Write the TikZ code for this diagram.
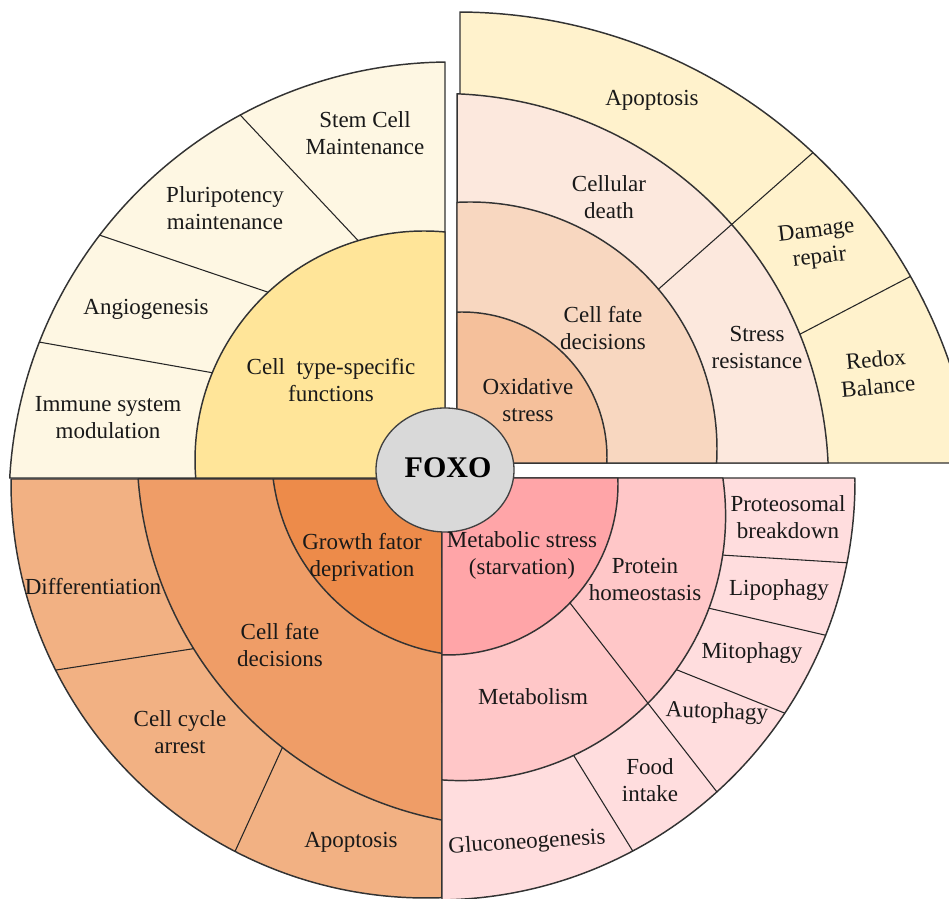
\documentclass[tikz,border=0pt]{standalone}
\usepackage{fontspec}
\setmainfont{Liberation Serif}
\usetikzlibrary{shapes.geometric}
\newcommand{\lbfont}{\fontsize{17.25pt}{20.25pt}\selectfont}
\definecolor{tlo}{RGB}{254,247,227}
\definecolor{tli}{RGB}{255,229,153}
\definecolor{tra}{RGB}{255,242,204}
\definecolor{trb}{RGB}{252,232,221}
\definecolor{trc}{RGB}{248,215,192}
\definecolor{trd}{RGB}{245,192,155}
\definecolor{bla}{RGB}{242,177,131}
\definecolor{blb}{RGB}{239,157,103}
\definecolor{blc}{RGB}{237,139,74}
\definecolor{bra}{RGB}{255,221,222}
\definecolor{brb}{RGB}{255,199,200}
\definecolor{brc}{RGB}{255,165,168}
\definecolor{foxofill}{RGB}{217,217,217}
\tikzset{
  region/.style={draw=black!80, line width=1.1pt, line join=round},
  divider/.style={draw=black!85, line width=0.8pt},
  lbl/.style={font=\lbfont, align=center, inner sep=0pt, text=black!90},
}
\begin{document}
\begin{tikzpicture}[x=0.75pt,y=0.75pt]
\useasboundingbox (0,0) rectangle (949,899);
\clip (0,0) rectangle (949,899);
\fill[white] (0,0) rectangle (949,899);

% ---------- top-left quadrant ----------
\path[region, fill=tlo] (445,421) -- ([shift={(450,396)}]90.65:441) arc[start angle=90.65, end angle=176.75, radius=441] -- cycle;
\path[region, fill=tli] (445,421) -- ([shift={(424,439)}]84.74:229) arc[start angle=84.74, end angle=184.51, radius=229] -- cycle;
\draw[divider] ([shift={(424,439)}]106.7:229) -- ([shift={(450,396)}]118.4:441);
\draw[divider] ([shift={(424,439)}]132.9:229) -- ([shift={(450,396)}]142.6:441);
\draw[divider] ([shift={(424,439)}]157.6:229) -- ([shift={(450,396)}]158.6:441);

% ---------- top-right quadrant ----------
\path[region, fill=tra] (460,436) -- ([shift={(457,366)}]89.67:521) arc[start angle=89.67, end angle=7.72, radius=521] -- cycle;
\path[region, fill=trb] (457,436) -- ([shift={(441.5,418.5)}]87.7:387) arc[start angle=87.7, end angle=2.59, radius=387] -- cycle;
\path[region, fill=trc] (457,436) -- ([shift={(470,450)}]93.02:247) arc[start angle=93.02, end angle=-3.25, radius=247] -- cycle;
\path[region, fill=trd] (457,436) -- ([shift={(462,442)}]91.98:145) arc[start angle=91.98, end angle=-2.37, radius=145] -- cycle;
\draw[divider] ([shift={(470,450)}]40.3:247) -- ([shift={(457,366)}]46.9:521);
\draw[divider] ([shift={(441.5,418.5)}]22.2:387) -- ([shift={(457,366)}]29.5:521);

% ---------- bottom-left quadrant ----------
\path[region, fill=bla] (442,420) -- ([shift={(426,416)}]179.45:415) arc[start angle=179.45, end angle=272.2, radius=415] -- cycle;
\path[region, fill=blb] (442,420) -- ([shift={(514,449)}]184.41:377) arc[start angle=184.41, end angle=259.0, radius=377] -- cycle;
\path[region, fill=blc] (442,420) -- ([shift={(474.5,446)}]187.36:203) arc[start angle=187.36, end angle=260.79, radius=203] -- cycle;
\draw[divider] ([shift={(514,449)}]211.8:377) -- ([shift={(426,416)}]206.8:415);
\draw[divider] ([shift={(514,449)}]232.1:377) -- ([shift={(426,416)}]242.6:415);

% ---------- bottom-right quadrant ----------
\path[region, fill=bra] (442,421) -- ([shift={(436,418)}]0.41:419) arc[start angle=0.41, end angle=-89.18, radius=419] -- cycle;
\path[region, fill=brb] (442,421) -- ([shift={(461,383)}]8.26:264.6) arc[start angle=8.26, end angle=-94.12, radius=264.6] -- cycle;
\path[region, fill=brc] (442,421) -- ([shift={(447,415)}]2.01:171) arc[start angle=2.01, end angle=-91.68, radius=171] -- cycle;
\draw[divider] ([shift={(447,415)}]-44.05:171) -- ([shift={(436,418)}]-47.9:419);
\draw[divider] ([shift={(461,383)}]-8.5:264.6) -- ([shift={(436,418)}]-11.26:419);
\draw[divider] ([shift={(461,383)}]-20.4:264.6) -- ([shift={(436,418)}]-21.6:419);
\draw[divider] ([shift={(461,383)}]-35.5:264.6) -- ([shift={(436,418)}]-33.65:419);
\draw[divider] ([shift={(461,383)}]-64.8:264.6) -- ([shift={(436,418)}]-62.0:419);

% ---------- centre ----------
\node[ellipse, draw=black!75, line width=1pt, fill=foxofill, minimum width=103.5pt, minimum height=93pt, inner sep=0pt] (foxo) at (445,429) {};
\node[font=\fontsize{22.5pt}{24pt}\selectfont\bfseries, inner sep=0pt] (foxot) at (448,431) {FOXO};

% ---------- labels: top-left ----------
\node[lbl] (stem) at (365,766) {Stem Cell\\Maintenance};
\node[lbl] (plur) at (225,691) {Pluripotency\\maintenance};
\node[lbl] (angi) at (146,590) {Angiogenesis};
\node[lbl] (immu) at (108,481) {Immune system\\modulation};
\node[lbl] (ctsf) at (331,519) {Cell~~type-specific\\functions};

% ---------- labels: top-right ----------
\node[lbl] (apo1) at (652,799) {Apoptosis};
\node[lbl] (celd) at (609,702) {Cellular\\death};
\node[lbl, rotate=7] (damr) at (818,654) {Damage\\repair};
\node[lbl] (cfd1) at (603,571) {Cell fate\\decisions};
\node[lbl] (stre) at (757,551) {Stress\\resistance};
\node[lbl, rotate=5] (redo) at (877,526) {Redox\\Balance};
\node[lbl] (oxis) at (528,499) {Oxidative\\stress};

% ---------- labels: bottom-left ----------
\node[lbl] (diff) at (93,312) {Differentiation};
\node[lbl] (grow) at (362,342) {Growth fator\\deprivation};
\node[lbl] (cfd2) at (280,254) {Cell fate\\decisions};
\node[lbl] (ccar) at (180,167) {Cell cycle\\arrest};
\node[lbl] (apo2) at (351,57) {Apoptosis};

% ---------- labels: bottom-right ----------
\node[lbl] (prot) at (788,382) {Proteosomal\\breakdown};
\node[lbl] (lipo) at (779,309) {Lipophagy};
\node[lbl] (mito) at (752,246) {Mitophagy};
\node[lbl, rotate=-2] (auto) at (717,186) {Autophagy};
\node[lbl] (food) at (650,119) {Food\\intake};
\node[lbl, rotate=3.6] (gluc) at (527,56) {Gluconeogenesis};
\node[lbl] (meta) at (533,202) {Metabolism};
\node[lbl] (proh) at (645,319) {Protein\\homeostasis};
\node[lbl] (mets) at (522,344) {Metabolic stress\\(starvation)};
\end{tikzpicture}
\end{document}
